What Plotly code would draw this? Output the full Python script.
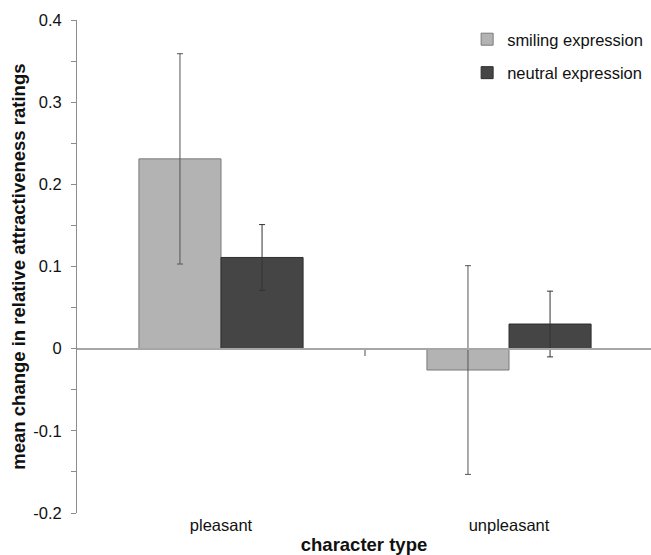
import plotly.graph_objects as go

categories = ["pleasant", "unpleasant"]
smiling_means = [0.231, -0.026]
smiling_err = [0.128, 0.127]
neutral_means = [0.111, 0.030]
neutral_err = [0.040, 0.040]
ytick_vals = [-0.2, -0.1, 0, 0.1, 0.2, 0.3, 0.4]
ytick_text = ["-0.2", "-0.1", "0", "0.1", "0.2", "0.3", "0.4"]
y_range = [-0.2, 0.4]
x_range = [-0.5, 1.493]

FONT = "Liberation Sans, Arial, sans-serif"
REG = 16.5
BOLD = 18.5

fig = go.Figure()
fig.add_trace(go.Bar(
    name="smiling expression", x=categories, y=smiling_means,
    marker=dict(color="#b3b3b3", line=dict(color="#7a7a7a", width=1)),
    error_y=dict(type="data", array=smiling_err, color="#555555", thickness=1, width=3),
    legendgroup="a",
))
fig.add_trace(go.Bar(
    name="neutral expression", x=categories, y=neutral_means,
    marker=dict(color="#454545", line=dict(color="#2e2e2e", width=1)),
    error_y=dict(type="data", array=neutral_err, color="#333333", thickness=1, width=3),
    legendgroup="b",
))
# invisible helper to anchor the zero-level category axis (line + middle tick)
fig.add_trace(go.Scatter(x=[0.5], y=[0], xaxis="x2", mode="markers",
                         marker=dict(opacity=0), showlegend=False, hoverinfo="skip"))

zero_pos = (0 - y_range[0]) / (y_range[1] - y_range[0])

fig.update_layout(
    width=651, height=555,
    margin=dict(l=77, r=0, t=20, b=42),
    paper_bgcolor="white", plot_bgcolor="white",
    font=dict(family=FONT, size=REG, color="#111111"),
    barmode="group", bargap=0.43, bargroupgap=0,
    showlegend=True,
    legend=dict(x=0.995, y=0.996, xanchor="right", yanchor="top",
                font=dict(size=REG, color="#111111"), tracegroupgap=9,
                traceorder="grouped", itemwidth=30, bgcolor="rgba(0,0,0,0)"),
    xaxis=dict(type="category", range=x_range, showline=False, showgrid=False,
               zeroline=False, ticks="", tickfont=dict(size=REG),
               title=dict(text="<b>character type</b>", font=dict(size=BOLD), standoff=6)),
    xaxis2=dict(overlaying="x", anchor="free", position=zero_pos, range=x_range,
                showline=True, linecolor="#a6a6a6", linewidth=2,
                ticks="outside", ticklen=6, tickcolor="#a6a6a6", tickwidth=2,
                tickvals=[0.5], showticklabels=False, showgrid=False, zeroline=False),
    yaxis=dict(range=y_range, tickvals=ytick_vals, ticktext=ytick_text,
               showline=True, linecolor="#8c8c8c", linewidth=1,
               ticks="outside", ticklen=5, tickcolor="#8c8c8c",
               ticklabelstandoff=6,
               minor=dict(dtick=0.05, ticks="outside", ticklen=5, tickcolor="#8c8c8c"),
               showgrid=False, zeroline=False, tickfont=dict(size=REG)),
    annotations=[dict(text="<b>mean change in relative attractiveness ratings</b>",
                      textangle=-90, xref="paper", yref="paper",
                      x=-0.1025, y=0.5, xanchor="center", yanchor="middle",
                      showarrow=False, font=dict(size=BOLD, color="#111111"))],
)

fig.write_html("out.html", config={"displayModeBar": False},
               post_script="document.body.style.margin='0';")
